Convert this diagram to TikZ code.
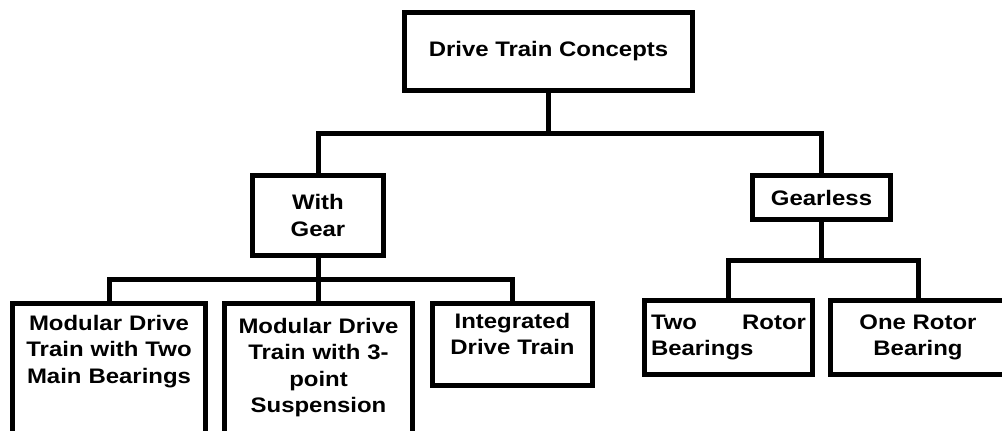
\documentclass[tikz,border=0pt]{standalone}
\usepackage{fontspec}
\setmainfont{Liberation Sans}[FakeStretch=1.14]
\usepackage{tikz}

\begin{document}
\begin{tikzpicture}[x=0.5pt, y=0.5pt,
  box/.style={draw, line width=2.5pt, inner sep=0pt, align=center},
  txt/.style={text width=90pt, align=center, inner sep=0pt},
  link/.style={line width=2.5pt},
  font=\fontsize{10.5}{13.3}\selectfont\bfseries]
  \useasboundingbox (0,0) rectangle (1002,-430);
  \clip (0,0) rectangle (1002,-430);

  \node[box, minimum width=144pt, minimum height=39pt] (concepts) at (548.5,-51.5) {Drive Train Concepts};
  \node[box, minimum width=65.5pt, minimum height=40pt] (withgear) at (318,-215.5) {With\\Gear};
  \node[box, minimum width=69pt, minimum height=22pt] (gearless) at (821.5,-197.5) {Gearless};
  \node[box, minimum width=96.5pt, minimum height=80pt, anchor=north] (modtwo) at (109,-300.5) {};
  \node[box, minimum width=94pt, minimum height=80pt, anchor=north] (modthree) at (318,-300.5) {};
  \node[box, minimum width=80pt, minimum height=41pt, anchor=north] (integ) at (512.5,-300.5) {};
  \node[box, minimum width=84pt, minimum height=37pt, text width=77.5pt, align=justify] (tworotor) at (728.5,-337.5) {Two Rotor\linebreak Bearings};
  \node[box, minimum width=87.5pt, minimum height=37pt] (onerotor) at (918,-337.5) {One Rotor\\Bearing};

  \node[txt, anchor=base] (modtwotxt) at (109,-330) {Modular Drive\\Train with Two\\Main Bearings};
  \node[txt, anchor=base] (modthreetxt) at (318.5,-333) {Modular Drive\\Train with 3-\\point\\Suspension};
  \node[txt, anchor=base] (integtxt) at (512.5,-328) {Integrated\\Drive Train};

  \coordinate (hubtop) at (548.5,-133);
  \coordinate (hubgear) at (318,-279.5);
  \coordinate (hubless) at (821.5,-260);

  \draw[link] (concepts.south) -- (hubtop);
  \draw[link] (withgear.north) |- (hubtop) -| (gearless.north);
  \draw[link] (withgear.south) -- (hubgear);
  \draw[link] (modtwo.north) |- (hubgear) -| (integ.north);
  \draw[link] (hubgear) -- (modthree.north);
  \draw[link] (gearless.south) -- (hubless);
  \draw[link] (tworotor.north) |- (hubless) -| (onerotor.north);
\end{tikzpicture}
\end{document}
